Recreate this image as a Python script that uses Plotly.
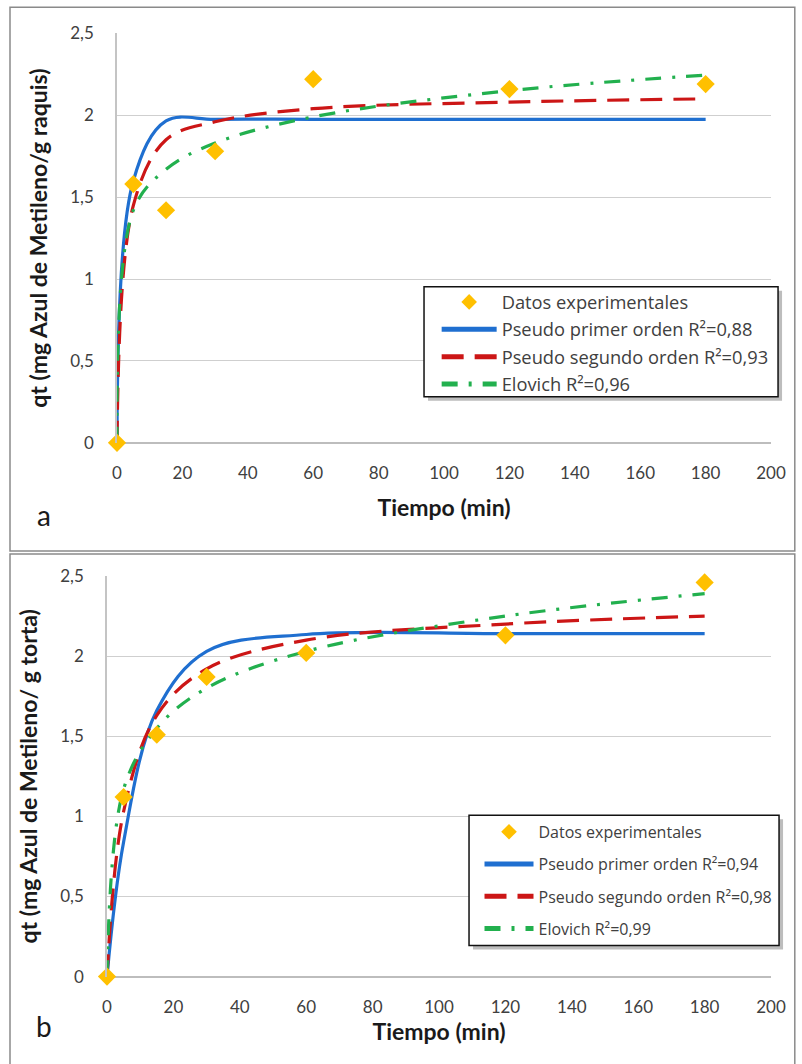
import plotly.graph_objects as go

W, H = 802, 1064

# ---------------- data ----------------
tiempo = [0, 5, 15, 30, 60, 120, 180]

a_exp = [0, 1.58, 1.42, 1.78, 2.22, 2.16, 2.19]
a_pfo = [0, 1.60, 1.965, 1.975, 1.975, 1.975, 1.975]
a_pso = [0, 1.45, 1.85, 1.96, 2.04, 2.08, 2.10]
a_elo = [0, 1.42, 1.67, 1.83, 1.99, 2.15, 2.245]

b_exp = [0, 1.12, 1.51, 1.87, 2.02, 2.13, 2.46]
b_pfo = [0, 0.84, 1.66, 2.03, 2.135, 2.14, 2.14]
b_pso = [0, 1.03, 1.63, 1.92, 2.10, 2.20, 2.25]
b_elo = [0, 1.17, 1.55, 1.80, 2.03, 2.25, 2.39]

x_ticks = [0, 20, 40, 60, 80, 100, 120, 140, 160, 180, 200]
y_ticks = [0, 0.5, 1, 1.5, 2, 2.5]
y_tick_text = ["0", "0,5", "1", "1,5", "2", "2,5"]

names_a = ["Datos experimentales", "Pseudo primer orden R²=0,88",
           "Pseudo segundo orden R²=0,93", "Elovich R²=0,96"]
names_b = ["Datos experimentales", "Pseudo primer orden R²=0,94",
           "Pseudo segundo orden R²=0,98", "Elovich R²=0,99"]

# ---------------- style ----------------
GOLD = "#FFC000"
BLUE = "#1F6FD0"
RED = "#CC1616"
GREEN = "#22B04E"
TXT = "#404040"
GRID = "#cfcfcf"
FONT = "Lato, 'Open Sans', sans-serif"
LFONT = "'Open Sans', Lato, sans-serif"
SMOOTH = 1.0


def X(x):
    # target picture pixel -> paper (empirical correction)
    return ((x - 5) / 0.975) / W


def Y(y):
    return 1 - ((y - 11.7) / 0.979) / H


fig = go.Figure()


def add_lines(xa, ya, legend, pfo, pso, elo, names):
    fig.add_trace(go.Scatter(
        x=tiempo, y=pfo, mode="lines", name=names[1], legendrank=2,
        line=dict(color=BLUE, width=3.2, shape="spline", smoothing=SMOOTH),
        xaxis=xa, yaxis=ya, legend=legend, legendgroup=legend + "1"))
    fig.add_trace(go.Scatter(
        x=tiempo, y=pso, mode="lines", name=names[2], legendrank=3,
        line=dict(color=RED, width=3.2, shape="spline", smoothing=SMOOTH,
                  dash="22px,11px"),
        xaxis=xa, yaxis=ya, legend=legend, legendgroup=legend + "2"))
    fig.add_trace(go.Scatter(
        x=tiempo, y=elo, mode="lines", name=names[3], legendrank=4,
        line=dict(color=GREEN, width=3.2, shape="spline", smoothing=SMOOTH,
                  dash="16px,11px,3px,11px"),
        xaxis=xa, yaxis=ya, legend=legend, legendgroup=legend + "3"))


def add_markers(xa, ya, legend, exp, names):
    fig.add_trace(go.Scatter(
        x=tiempo, y=exp, mode="markers", name=names[0], legendrank=1,
        marker=dict(symbol="diamond", size=14, color=GOLD),
        cliponaxis=False,
        xaxis=xa, yaxis=ya, legend=legend, legendgroup=legend + "0"))


add_lines("x", "y", "legend", a_pfo, a_pso, a_elo, names_a)
add_markers("x", "y", "legend", a_exp, names_a)
add_lines("x2", "y2", "legend2", b_pfo, b_pso, b_elo, names_b)
add_markers("x2", "y2", "legend2", b_exp, names_b)


def xaxis_style(title_standoff):
    return dict(
        range=[0, 200], tickvals=x_ticks, showgrid=False, zeroline=False,
        showline=False, ticks="", ticklabelstandoff=18,
        tickfont=dict(family=FONT, size=17, color=TXT),
        title=dict(text="<b>Tiempo (min)</b>", standoff=title_standoff,
                   font=dict(family=FONT, size=23, color="#1a1a1a")),
        fixedrange=True)


yaxis_common = dict(
    range=[0, 2.5], tickvals=y_ticks, ticktext=y_tick_text,
    showgrid=True, gridcolor=GRID, gridwidth=1, zeroline=True,
    zerolinecolor="#bdbdbd", zerolinewidth=1.5,
    showline=True, linecolor="#c4c4c4", linewidth=1.5, ticks="",
    ticklabelstandoff=18,
    tickfont=dict(family=FONT, size=17, color=TXT),
    fixedrange=True)

fig.update_layout(
    width=W, height=H, autosize=False,
    margin=dict(l=0, r=0, t=0, b=0),
    paper_bgcolor="white", plot_bgcolor="white",
    xaxis=dict(domain=[X(117), X(771)], anchor="y", **xaxis_style(18)),
    yaxis=dict(domain=[Y(443), Y(34)], anchor="x",
               title=dict(text="<b>qt (mg Azul de Metileno/g raquis)</b>",
                          standoff=16,
                          font=dict(family=FONT, size=23, color="#1a1a1a")),
               **yaxis_common),
    xaxis2=dict(domain=[X(107), X(771)], anchor="y2", **xaxis_style(7)),
    yaxis2=dict(domain=[Y(976), Y(576)], anchor="x2",
                title=dict(text="<b>qt (mg Azul de Metileno/ g torta)</b>",
                           standoff=16,
                           font=dict(family=FONT, size=23, color="#1a1a1a")),
                **yaxis_common),
    legend=dict(x=X(500) - 65 / W, y=1 - 278 / H, xanchor="left", yanchor="top",
                bgcolor="rgba(0,0,0,0)", borderwidth=0,
                font=dict(family=LFONT, size=18.3, color=TXT),
                itemwidth=55, itemsizing="constant",
                traceorder="grouped", tracegroupgap=0.6),
    legend2=dict(x=X(537) - 59 / W, y=1 - 820 / H, xanchor="left", yanchor="top",
                 bgcolor="rgba(0,0,0,0)", borderwidth=0,
                 font=dict(family=LFONT, size=16, color=TXT),
                 itemwidth=49, itemsizing="constant",
                 traceorder="grouped", tracegroupgap=8.5),
    showlegend=True,
)

shapes = []
# panel frames
for (x0, y0, y1) in [(10, 8, 551), (10, 554, 1085)]:
    shapes.append(dict(type="rect", xref="paper", yref="paper",
                       x0=X(x0), x1=810 / W, y0=Y(y1), y1=Y(y0),
                       line=dict(color="#8a8a8a", width=1.5),
                       fillcolor="rgba(0,0,0,0)", layer="below"))
# legend boxes with shadow
for (x0, y0, x1, y1) in [(424, 287, 778, 397), (469, 815, 779, 945)]:
    shapes.append(dict(type="rect", xref="paper", yref="paper",
                       x0=X(x0 + 4), x1=X(x1 + 4), y0=Y(y1 + 4), y1=Y(y0 + 4),
                       line=dict(width=0), fillcolor="#bdbdbd", layer="above"))
    shapes.append(dict(type="rect", xref="paper", yref="paper",
                       x0=X(x0), x1=X(x1), y0=Y(y1), y1=Y(y0),
                       line=dict(color="#111111", width=1.5),
                       fillcolor="white", layer="above"))
fig.update_layout(shapes=shapes)

fig.add_annotation(text="a", x=X(44), y=Y(515), xref="paper", yref="paper",
                   showarrow=False, xanchor="center", yanchor="middle",
                   font=dict(family=FONT, size=28, color="#1a1a1a"))
fig.add_annotation(text="b", x=X(44), y=Y(1025), xref="paper", yref="paper",
                   showarrow=False, xanchor="center", yanchor="middle",
                   font=dict(family=FONT, size=28, color="#1a1a1a"))

fig.write_html("out.html")
